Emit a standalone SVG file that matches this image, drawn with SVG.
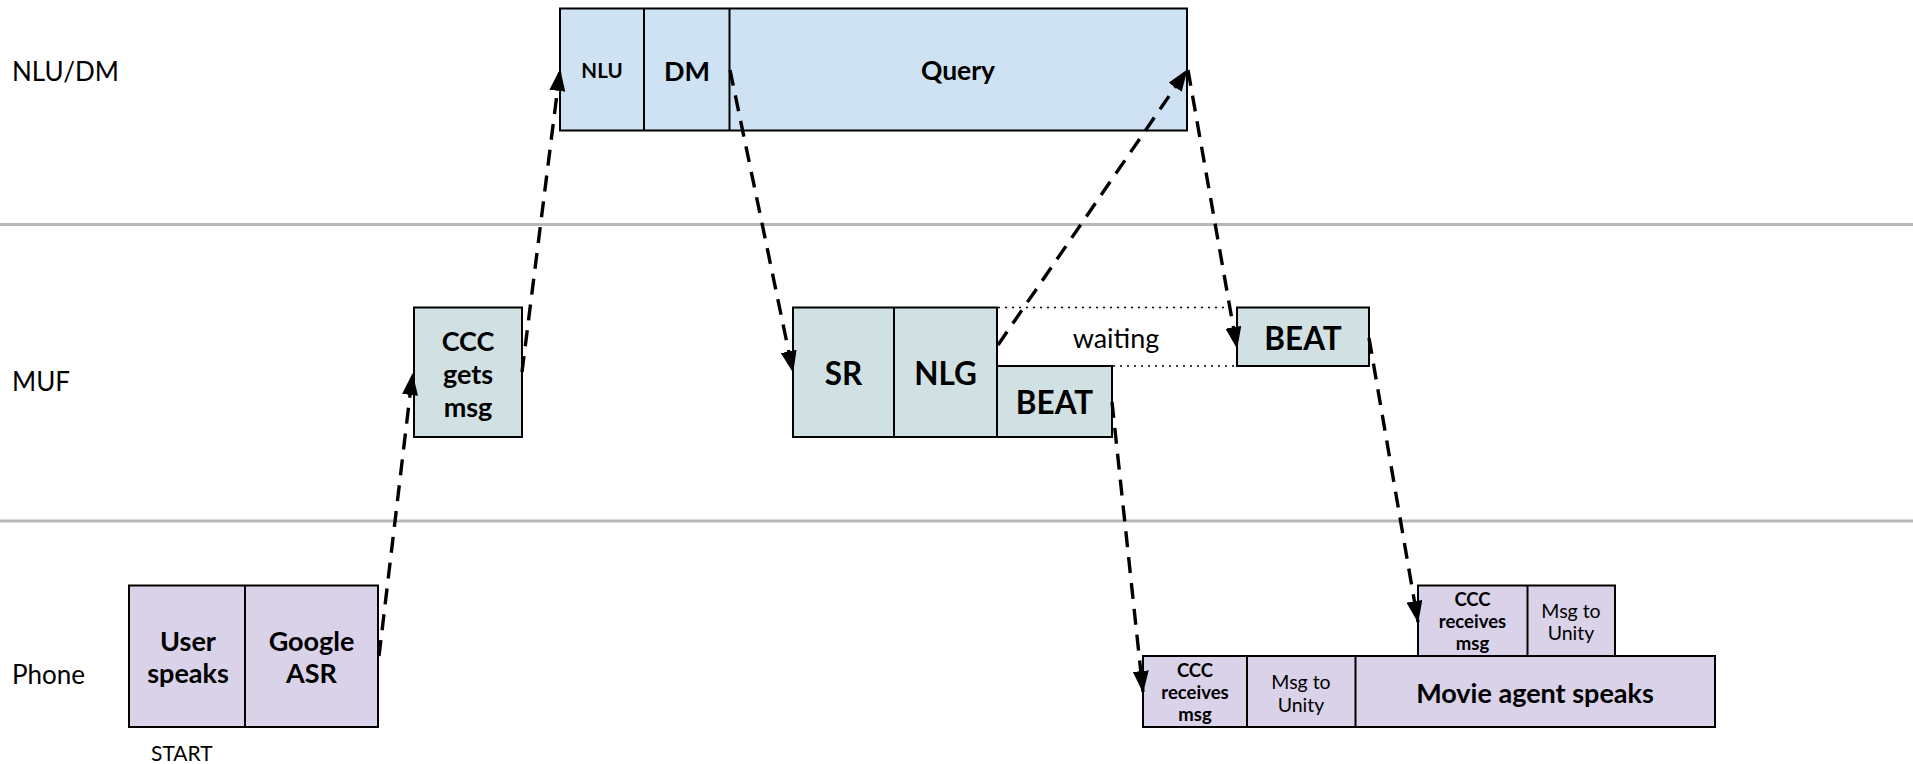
<svg xmlns="http://www.w3.org/2000/svg" width="1913" height="764" viewBox="0 0 1913 764">
<defs>
<marker id="ah" markerUnits="userSpaceOnUse" markerWidth="22" markerHeight="16" viewBox="0 0 22 16" refX="21" refY="8" orient="auto">
<path d="M0,0 L22,8 L0,16 Z" fill="#000"/>
</marker>
</defs>
<style>
.lane{stroke:#b7b7b7;stroke-width:3}
.lbl{font-family:Lato,"Liberation Sans",sans-serif;font-size:26px;fill:#000}
.t{font-family:Lato,"Liberation Sans",sans-serif;fill:#000;text-anchor:middle;dominant-baseline:central}
.b{font-weight:bold}
.blue{fill:#cfe2f3;stroke:#000;stroke-width:2}
.teal{fill:#d0e0e3;stroke:#000;stroke-width:2}
.purp{fill:#d9d2e9;stroke:#000;stroke-width:2}
.div{stroke:#000;stroke-width:2}
.conn{stroke:#000;stroke-width:3.4;stroke-dasharray:16 10;fill:none;marker-end:url(#ah)}
.dot{stroke:#000;stroke-width:1.5;stroke-dasharray:2 5}
</style>
<rect width="1913" height="764" fill="#fff"/>
<g id="lanes">
<line class="lane" x1="0" y1="224.5" x2="1913" y2="224.5"/>
<line class="lane" x1="0" y1="521" x2="1913" y2="521"/>
<text class="lbl" x="12" y="81">NLU/DM</text>
<text class="lbl" x="12" y="391">MUF</text>
<text class="lbl" x="12" y="684">Phone</text>
<text class="lbl" x="151" y="761" style="font-size:21px">START</text>
</g>
<g id="nludm">
<rect class="blue" x="560" y="8.5" width="627" height="122"/>
<line class="div" x1="644" y1="8.5" x2="644" y2="130.5"/>
<line class="div" x1="729.5" y1="8.5" x2="729.5" y2="130.5"/>
<text class="t b" x="602" y="70" font-size="20.5">NLU</text>
<text class="t b" x="687" y="70" font-size="27">DM</text>
<text class="t b" x="958" y="70" font-size="26.5">Query</text>
</g>
<g id="ccc-gets">
<rect class="teal" x="414" y="307.5" width="108" height="129.5"/>
<text class="t b" x="468" y="340" font-size="27">CCC</text>
<text class="t b" x="468" y="373" font-size="27">gets</text>
<text class="t b" x="468" y="406" font-size="27">msg</text>
</g>
<g id="sr-nlg">
<rect class="teal" x="793" y="307.5" width="204" height="129.5"/>
<line class="div" x1="894" y1="307.5" x2="894" y2="437"/>
<text class="t b" x="843.5" y="373" font-size="31.5">SR</text>
<text class="t b" x="945.5" y="373" font-size="31.5">NLG</text>
</g>
<g id="beat1">
<rect class="teal" x="997" y="366" width="115" height="71"/>
<text class="t b" x="1054.5" y="402" font-size="31.5">BEAT</text>
</g>
<g id="beat2">
<rect class="teal" x="1237" y="307.5" width="132" height="58.5"/>
<text class="t b" x="1303" y="338" font-size="31.5">BEAT</text>
</g>
<g id="waiting">
<line class="dot" x1="998" y1="307.5" x2="1236" y2="307.5"/>
<line class="dot" x1="1113" y1="366" x2="1236" y2="366"/>
<text class="t" x="1116" y="337" font-size="27">waiting</text>
</g>
<g id="user-asr">
<rect class="purp" x="129" y="585.5" width="249" height="141.5"/>
<line class="div" x1="245" y1="585.5" x2="245" y2="727"/>
<text class="t b" x="188" y="640" font-size="27">User</text>
<text class="t b" x="188" y="672" font-size="27">speaks</text>
<text class="t b" x="311.5" y="640" font-size="27">Google</text>
<text class="t b" x="311.5" y="672" font-size="27">ASR</text>
</g>
<g id="agent1">
<rect class="purp" x="1143" y="656" width="572" height="71"/>
<line class="div" x1="1247" y1="656" x2="1247" y2="727"/>
<line class="div" x1="1355.5" y1="656" x2="1355.5" y2="727"/>
<text class="t b" x="1195" y="670" font-size="18.5">CCC</text>
<text class="t b" x="1195" y="692" font-size="18.5">receives</text>
<text class="t b" x="1195" y="714" font-size="18.5">msg</text>
<text class="t" x="1301" y="681" font-size="19.5">Msg to</text>
<text class="t" x="1301" y="704" font-size="19.5">Unity</text>
<text class="t b" x="1535" y="692" font-size="27">Movie agent speaks</text>
</g>
<g id="agent2">
<rect class="purp" x="1418" y="585.5" width="197" height="70.5"/>
<line class="div" x1="1527.5" y1="585.5" x2="1527.5" y2="656"/>
<text class="t b" x="1472.5" y="599" font-size="18.5">CCC</text>
<text class="t b" x="1472.5" y="621" font-size="18.5">receives</text>
<text class="t b" x="1472.5" y="643" font-size="18.5">msg</text>
<text class="t" x="1571" y="610" font-size="19.5">Msg to</text>
<text class="t" x="1571" y="632" font-size="19.5">Unity</text>
</g>
<g id="connectors">
<line class="conn" x1="379" y1="656" x2="412.5" y2="374"/>
<line class="conn" x1="522" y1="372" x2="560" y2="70"/>
<line class="conn" x1="730" y1="70" x2="793" y2="372"/>
<line class="conn" x1="998" y1="345" x2="1187" y2="70"/>
<line class="conn" x1="1188" y1="70" x2="1237" y2="348"/>
<line class="conn" x1="1112" y1="402" x2="1143" y2="692"/>
<line class="conn" x1="1369" y1="338" x2="1418" y2="622"/>
</g>
</svg>
